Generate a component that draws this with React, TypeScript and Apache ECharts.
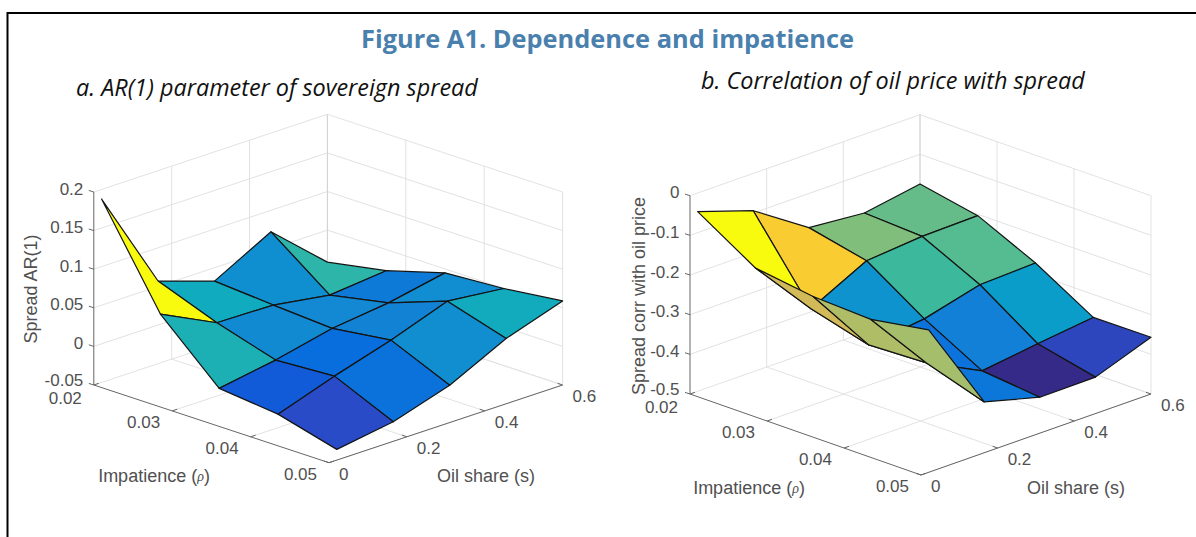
import React, { useEffect, useRef } from "react";
import * as echarts from "echarts";

// ---- data ----
const rhoGrid = [0.02, 0.0275, 0.035, 0.0425, 0.05];
const shareGrid = [0.02, 0.165, 0.31, 0.455, 0.6];

const arRow0 = [0.1875, 0.057, 0.0326, 0.0721, 0.0085];
const arRow1 = [0.0637, 0.0281, 0.0267, 0.0153, 0.0226];
const arRow2 = [-0.0074, 0.0049, 0.0216, 0.0304, 0.0449];
const arRow3 = [-0.0156, 0.0093, 0.0316, 0.0577, 0.0498];
const arRow4 = [-0.0361, -0.0247, -0.0016, 0.0346, 0.0589];

const corrRow0 = [-0.047, -0.094, -0.186, -0.1985, -0.1745];
const corrRow1 = [-0.138, -0.29, -0.2186, -0.2065, -0.2035];
const corrRow2 = [-0.159, -0.3303, -0.314, -0.2773, -0.2717];
const corrRow3 = [-0.1656, -0.3246, -0.3941, -0.3751, -0.358];
const corrRow4 = [-0.141, -0.372, -0.4094, -0.4081, -0.3569];

const rhoTicks = [0.02, 0.03, 0.04, 0.05];
const shareTicks = [0, 0.2, 0.4, 0.6];
const arZTicks = [-0.05, 0, 0.05, 0.1, 0.15, 0.2];
const corrZTicks = [-0.5, -0.4, -0.3, -0.2, -0.1, 0];

const parulaAt = [0, 0.0635, 0.125, 0.25, 0.375, 0.5, 0.625, 0.75, 0.875, 1];
const parulaStops = ["#352a87", "#2c4ac7", "#0363e1", "#1485d4", "#06a7c6", "#38b99e", "#92bf73", "#d9ba56", "#fcce2e", "#f9fb0e"];

const TITLE = "Figure A1. Dependence and impatience";
const SUB_A = "a. AR(1) parameter of sovereign spread";
const SUB_B = "b. Correlation of oil price with spread";

// ---- layout ----
type Panel = {
  L: number[]; F: number[]; R: number[]; topY: number;
  zMin: number; zMax: number; zTicks: number[]; rows: number[][];
  cMin: number; cMax: number; zTitle: string; zTitleX: number; zTitleY: number;
  rhoTitle: number[]; shareTitle: number[];
};

const panelA: Panel = {
  L: [93.8, 385], F: [329, 462.7], R: [562.6, 385], topY: 192,
  zMin: -0.05, zMax: 0.2, zTicks: arZTicks,
  rows: [arRow0, arRow1, arRow2, arRow3, arRow4],
  cMin: -0.03, cMax: 0.1875,
  zTitle: "Spread AR(1)", zTitleX: 31, zTitleY: 289,
  rhoTitle: [154, 476], shareTitle: [486, 476],
};
const panelB: Panel = {
  L: [690, 394], F: [921, 475], R: [1151, 394], topY: 195.7,
  zMin: -0.5, zMax: 0, zTicks: corrZTicks,
  rows: [corrRow0, corrRow1, corrRow2, corrRow3, corrRow4],
  cMin: -0.3941, cMax: -0.047,
  zTitle: "Spread corr with oil price", zTitleX: 639, zTitleY: 296,
  rhoTitle: [749, 488], shareTitle: [1076, 488],
};

const GRID_COLOR = "#e2e2e2";
const AXIS_COLOR = "#666666";
const TEXT_COLOR = "#505050";
const TICK_FONT = "17px 'Liberation Sans', Arial, sans-serif";
const TITLE_FONT = "18px 'Liberation Sans', Arial, sans-serif";

function hexToRgb(h: string) {
  return [1, 3, 5].map((k) => parseInt(h.slice(k, k + 2), 16));
}
function parula(t: number) {
  const v = Math.max(0, Math.min(1, t));
  let k = 0;
  while (k < parulaAt.length - 2 && v > parulaAt[k + 1]) k++;
  const a = hexToRgb(parulaStops[k]);
  const b = hexToRgb(parulaStops[k + 1]);
  const f = (v - parulaAt[k]) / (parulaAt[k + 1] - parulaAt[k]);
  return `rgb(${a.map((c, n) => Math.round(c + (b[n] - c) * f)).join(",")})`;
}

// Orthographic view: a data triple goes to the hidden cartesian axes of the panel's grid.
function gridBox(p: Panel) {
  const dy = p.F[1] - p.L[1];
  const backTop = p.topY - dy;
  return { left: p.L[0], top: backTop, width: p.R[0] - p.L[0], height: p.F[1] - backTop };
}
function toAxes(p: Panel, rho: number, share: number, z: number): number[] {
  const rf = (rho - 0.02) / 0.03;
  const sf = share / 0.6;
  const zf = (z - p.zMin) / (p.zMax - p.zMin);
  const b = gridBox(p);
  const x = p.L[0] + rf * (p.F[0] - p.L[0]) + sf * (p.R[0] - p.F[0]);
  const y = p.L[1] + rf * (p.F[1] - p.L[1]) + sf * (p.R[1] - p.F[1]) - zf * (p.L[1] - p.topY);
  return [(x - b.left) / b.width, (b.top + b.height - y) / b.height];
}

function line(a: number[], b: number[], stroke: string, lineWidth = 1) {
  return {
    type: "line",
    shape: { x1: a[0], y1: a[1], x2: b[0], y2: b[1] },
    style: { stroke, lineWidth, fill: "none" },
    silent: true,
  };
}
function label(text: string, x: number, y: number, align: string, font: string, extra: any = {}) {
  return {
    type: "text",
    x,
    y,
    rotation: extra.rotation || 0,
    silent: true,
    style: {
      text,
      font,
      fill: TEXT_COLOR,
      align,
      verticalAlign: "middle",
      textAlign: align,
      textVerticalAlign: "middle",
      rich: extra.rich,
    },
  };
}

function frameSeries(p: Panel, gridIndex: number) {
  return {
    type: "custom",
    xAxisIndex: gridIndex,
    yAxisIndex: gridIndex,
    clip: false,
    silent: true,
    data: [[0, 0]],
    renderItem: (_: any, api: any) => {
      const P = (r: number, s: number, z: number) => api.coord(toAxes(p, r, s, z));
      const kids: any[] = [];
      const rMin = rhoTicks[0];
      const rMax = rhoTicks[rhoTicks.length - 1];
      const sMin = shareTicks[0];
      const sMax = shareTicks[shareTicks.length - 1];
      p.zTicks.forEach((z) => {
        kids.push(line(P(rMin, sMin, z), P(rMin, sMax, z), GRID_COLOR));
        kids.push(line(P(rMin, sMax, z), P(rMax, sMax, z), GRID_COLOR));
      });
      shareTicks.slice(1).forEach((s) => {
        kids.push(line(P(rMin, s, p.zMin), P(rMin, s, p.zMax), GRID_COLOR));
        kids.push(line(P(rMin, s, p.zMin), P(rMax, s, p.zMin), GRID_COLOR));
      });
      rhoTicks.slice(1).forEach((r) => {
        kids.push(line(P(r, sMax, p.zMin), P(r, sMax, p.zMax), GRID_COLOR));
        kids.push(line(P(r, sMin, p.zMin), P(r, sMax, p.zMin), GRID_COLOR));
      });
      kids.push(line(P(rMin, sMax, p.zMin), P(rMin, sMax, p.zMax), "#d2d2d2"));
      // axes
      kids.push(line(P(rMin, sMin, p.zMin), P(rMin, sMin, p.zMax), AXIS_COLOR));
      kids.push(line(P(rMin, sMin, p.zMin), P(rMax, sMin, p.zMin), AXIS_COLOR));
      kids.push(line(P(rMax, sMin, p.zMin), P(rMax, sMax, p.zMin), AXIS_COLOR));
      p.zTicks.forEach((z) => {
        const a = P(rMin, sMin, z);
        kids.push(line(a, [a[0] - 5, a[1] - 1.6], AXIS_COLOR));
      });
      rhoTicks.forEach((r) => {
        const a = P(r, sMin, p.zMin);
        kids.push(line(a, [a[0] + 5, a[1] - 1.7], AXIS_COLOR));
      });
      shareTicks.forEach((s) => {
        const a = P(rMax, s, p.zMin);
        kids.push(line(a, [a[0] - 5, a[1] - 1.7], AXIS_COLOR));
      });
      return { type: "group", children: kids };
    },
  };
}

function surfaceSeries(p: Panel, gridIndex: number) {
  const faces: { i: number; j: number }[] = [];
  for (let i = 0; i < rhoGrid.length - 1; i++) {
    for (let j = 0; j < shareGrid.length - 1; j++) faces.push({ i, j });
  }
  // painter's order: the back corner (low rho, high share) is drawn first
  const ordered = faces
    .map((f, n) => ({ ...f, n }))
    .sort((a, b) => a.i - a.j - (b.i - b.j) || a.n - b.n);
  return {
    type: "custom",
    xAxisIndex: gridIndex,
    yAxisIndex: gridIndex,
    clip: false,
    silent: true,
    data: ordered.map((f) => toAxes(p, rhoGrid[f.i], shareGrid[f.j], p.rows[f.i][f.j])),
    renderItem: (params: any, api: any) => {
      const f = ordered[params.dataIndex];
      const corners = [
        [f.i, f.j],
        [f.i, f.j + 1],
        [f.i + 1, f.j + 1],
        [f.i + 1, f.j],
      ];
      const points = corners.map(([a, b]) => api.coord(toAxes(p, rhoGrid[a], shareGrid[b], p.rows[a][b])));
      return {
        type: "polygon",
        shape: { points },
        style: {
          fill: parula((p.rows[f.i][f.j] - p.cMin) / (p.cMax - p.cMin)),
          stroke: "#141414",
          lineWidth: 1.2,
          lineJoin: "round",
        },
      };
    },
  };
}

function labelSeries(p: Panel, gridIndex: number) {
  return {
    type: "custom",
    xAxisIndex: gridIndex,
    yAxisIndex: gridIndex,
    clip: false,
    silent: true,
    data: [[0, 0]],
    renderItem: (_: any, api: any) => {
      const P = (r: number, s: number, z: number) => api.coord(toAxes(p, r, s, z));
      const kids: any[] = [];
      p.zTicks.forEach((z) => {
        const a = P(0.02, 0, z);
        kids.push(label(String(z), a[0] - 10.5, a[1] - (z === p.zMin ? 4.5 : 3), "right", TICK_FONT));
      });
      rhoTicks.forEach((r) => {
        const a = P(r, 0, p.zMin);
        kids.push(label(r.toFixed(2), a[0] - 12, a[1] + (r === 0.02 ? 13 : 11.5), "right", TICK_FONT));
      });
      shareTicks.forEach((s) => {
        const a = P(0.05, s, p.zMin);
        kids.push(label(String(s), a[0] + 10, a[1] + 11.5, "left", TICK_FONT));
      });
      kids.push(
        label("Impatience ({r|\u03c1})", p.rhoTitle[0], p.rhoTitle[1], "center", TITLE_FONT, {
          rich: { r: { fontStyle: "italic", fill: TEXT_COLOR, font: "italic 14px 'Liberation Serif', serif" } },
        })
      );
      kids.push(label("Oil share (s)", p.shareTitle[0], p.shareTitle[1], "center", TITLE_FONT));
      kids.push(label(p.zTitle, p.zTitleX, p.zTitleY, "center", TITLE_FONT, { rotation: Math.PI / 2 }));
      return { type: "group", children: kids };
    },
  };
}

function hiddenAxis(gridIndex: number) {
  return { type: "value", gridIndex, min: 0, max: 1, show: false };
}

const subtitleStyle = {
  fontFamily: "'Open Sans', sans-serif",
  fontStyle: "italic",
  fontWeight: "normal",
  fontSize: 23.4,
  color: "#111111",
};

const option: any = {
  animation: false,
  backgroundColor: "#ffffff",
  title: [
    {
      text: TITLE,
      left: 607.5,
      top: 25.5,
      padding: 0,
      textAlign: "center",
      textStyle: { fontFamily: "'Open Sans', sans-serif", fontWeight: "bold", fontSize: 25.4, color: "#4a80ad" },
    },
    { text: SUB_A, left: 76, top: 75.5, padding: 0, textStyle: subtitleStyle },
    { text: SUB_B, left: 701, top: 68.5, padding: 0, textStyle: subtitleStyle },
  ],
  grid: [panelA, panelB].map((p) => ({ ...gridBox(p), containLabel: false, show: false })),
  xAxis: [hiddenAxis(0), hiddenAxis(1)],
  yAxis: [hiddenAxis(0), hiddenAxis(1)],
  graphic: [
    { type: "line", shape: { x1: 7.5, y1: 13, x2: 1196, y2: 13 }, style: { stroke: "#000", lineWidth: 2 } },
    { type: "line", shape: { x1: 7.5, y1: 12, x2: 7.5, y2: 537 }, style: { stroke: "#000", lineWidth: 2 } },
  ],
  series: [
    frameSeries(panelA, 0),
    surfaceSeries(panelA, 0),
    labelSeries(panelA, 0),
    frameSeries(panelB, 1),
    surfaceSeries(panelB, 1),
    labelSeries(panelB, 1),
  ],
};

export default function App() {
  const ref = useRef<HTMLDivElement>(null);
  useEffect(() => {
    const chart = echarts.init(ref.current!, undefined, { renderer: "svg" });
    chart.setOption(option);
    return () => chart.dispose();
  }, []);
  return <div ref={ref} style={{ position: "fixed", left: 0, top: 0, width: 1196, height: 537 }} />;
}
